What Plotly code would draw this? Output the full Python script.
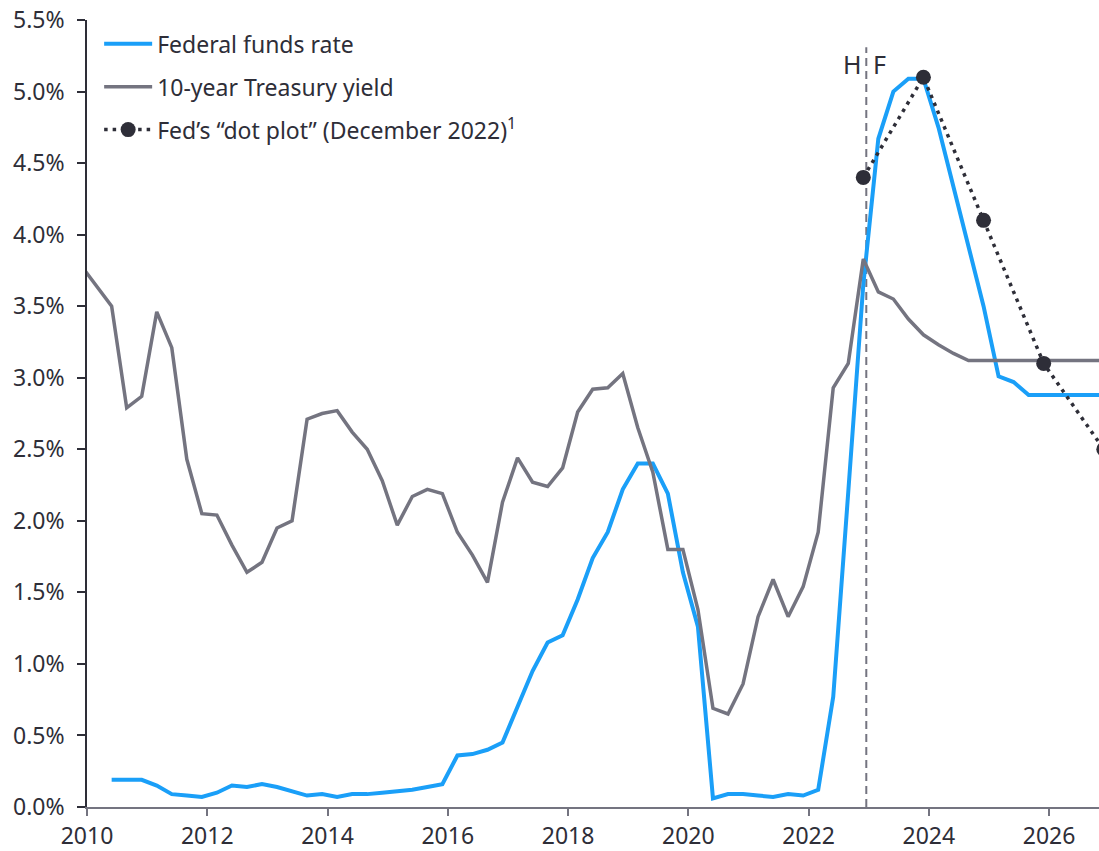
import plotly.graph_objects as go

# ---------------- data ----------------
quarters_ffr = (
    [f"2010Q{q}" for q in (2, 3, 4)]
    + [f"{y}Q{q}" for y in range(2011, 2027) for q in (1, 2, 3, 4)]
)
fed_funds = [
    0.19, 0.19, 0.19,
    0.15, 0.09, 0.08, 0.07,
    0.10, 0.15, 0.14, 0.16,
    0.14, 0.11, 0.08, 0.09,
    0.07, 0.09, 0.09, 0.10,
    0.11, 0.12, 0.14, 0.16,
    0.36, 0.37, 0.40, 0.45,
    0.70, 0.95, 1.15, 1.20,
    1.45, 1.74, 1.92, 2.22,
    2.40, 2.40, 2.19, 1.64,
    1.26, 0.06, 0.09, 0.09,
    0.08, 0.07, 0.09, 0.08,
    0.12, 0.77, 2.20, 3.65,
    4.67, 5.00, 5.09, 5.09,
    4.75, 4.34, 3.93, 3.50,
    3.01, 2.97, 2.88, 2.88,
    2.88, 2.88, 2.88, 2.88,
]

quarters_10y = (
    ["2009Q4"]
    + [f"{y}Q{q}" for y in range(2010, 2027) for q in (1, 2, 3, 4)]
)
treasury_10y = [
    3.78,
    3.64, 3.50, 2.79, 2.87,
    3.46, 3.21, 2.43, 2.05,
    2.04, 1.83, 1.64, 1.71,
    1.95, 2.00, 2.71, 2.75,
    2.77, 2.62, 2.50, 2.28,
    1.97, 2.17, 2.22, 2.19,
    1.92, 1.76, 1.57, 2.13,
    2.44, 2.27, 2.24, 2.37,
    2.76, 2.92, 2.93, 3.03,
    2.65, 2.34, 1.80, 1.80,
    1.38, 0.69, 0.65, 0.86,
    1.33, 1.59, 1.33, 1.54,
    1.92, 2.93, 3.10, 3.83,
    3.60, 3.55, 3.41, 3.30,
    3.23, 3.17, 3.12, 3.12,
    3.12, 3.12, 3.12, 3.12,
    3.12, 3.12, 3.12, 3.12,
]

quarters_dots = ["2022Q4", "2023Q4", "2024Q4", "2025Q4", "2026Q4"]
dot_plot = [4.40, 5.10, 4.10, 3.10, 2.50]

x_tick_vals = [2010, 2012, 2014, 2016, 2018, 2020, 2022, 2024, 2026]
x_tick_text = ["2010", "2012", "2014", "2016", "2018", "2020", "2022", "2024", "2026"]
y_tick_vals = [0, 0.5, 1, 1.5, 2, 2.5, 3, 3.5, 4, 4.5, 5, 5.5]
y_tick_text = ["0.0%", "0.5%", "1.0%", "1.5%", "2.0%", "2.5%",
               "3.0%", "3.5%", "4.0%", "4.5%", "5.0%", "5.5%"]

forecast_start = 2022.96
names = ["Federal funds rate", "10-year Treasury yield",
         "Fed\u2019s \u201cdot plot\u201d (December 2022)<sup>1</sup>"]


def to_year(q):
    y, n = q.split("Q")
    return int(y) + (int(n) - 1) * 0.25 + 0.16


BLUE = "#1a9ff8"
GRAY = "#747480"
DARK = "#2e2e38"
FONT = "Noto Sans"

fig = go.Figure()
fig.add_trace(go.Scatter(
    x=[to_year(q) for q in quarters_ffr], y=fed_funds, mode="lines",
    name=names[0], legendgroup="a",
    line=dict(color=BLUE, width=4)))
fig.add_trace(go.Scatter(
    x=[to_year(q) for q in quarters_10y], y=treasury_10y, mode="lines",
    name=names[1], legendgroup="b",
    line=dict(color=GRAY, width=3.5)))
fig.add_trace(go.Scatter(
    x=[to_year(q) for q in quarters_dots], y=dot_plot, mode="lines+markers",
    name=names[2], legendgroup="c",
    line=dict(color=DARK, width=3.5, dash="3.5px,5px"),
    marker=dict(color=DARK, size=15)))

fig.add_shape(type="line", xref="x", yref="y",
              x0=forecast_start, x1=forecast_start, y0=0, y1=5.31,
              line=dict(color=GRAY, width=2, dash="8px,5px"), layer="below")
fig.add_annotation(x=forecast_start, y=5.19, xref="x", yref="y", text="H",
                   showarrow=False, xanchor="center", xshift=-14,
                   font=dict(family=FONT, size=25, color=DARK))
fig.add_annotation(x=forecast_start, y=5.19, xref="x", yref="y", text="F",
                   showarrow=False, xanchor="center", xshift=13,
                   font=dict(family=FONT, size=25, color=DARK))

fig.update_layout(
    width=1099, height=851,
    margin=dict(l=87, r=0, t=20, b=44, autoexpand=False),
    paper_bgcolor="white", plot_bgcolor="white",
    font=dict(family=FONT, size=23, color=DARK),
    legend=dict(x=0.012, y=0.997, xanchor="left", yanchor="top",
                bgcolor="rgba(0,0,0,0)", tracegroupgap=10, itemwidth=48,
                font=dict(family=FONT, size=23, color=DARK)),
    xaxis=dict(range=[2010, 2026.83], tickvals=x_tick_vals, ticktext=x_tick_text,
               showgrid=False, zeroline=False, showline=True, linecolor=GRAY,
               linewidth=2, ticks="outside", ticklen=7, tickcolor=GRAY, tickwidth=1.5,
               automargin=False,
               tickfont=dict(family=FONT, size=23, color=DARK)),
    yaxis=dict(range=[0, 5.5], tickvals=y_tick_vals, ticktext=y_tick_text,
               showgrid=False, zeroline=False, showline=True, linecolor=DARK,
               linewidth=1.5, ticks="outside", ticklen=8, tickcolor=DARK, tickwidth=1.5,
               ticklabelstandoff=8, automargin=False,
               tickfont=dict(family=FONT, size=23, color=DARK)),
)

fig.write_html("out.html", config={"displayModeBar": False},
               post_script="document.body.style.margin='0';document.body.style.overflow='hidden';")
